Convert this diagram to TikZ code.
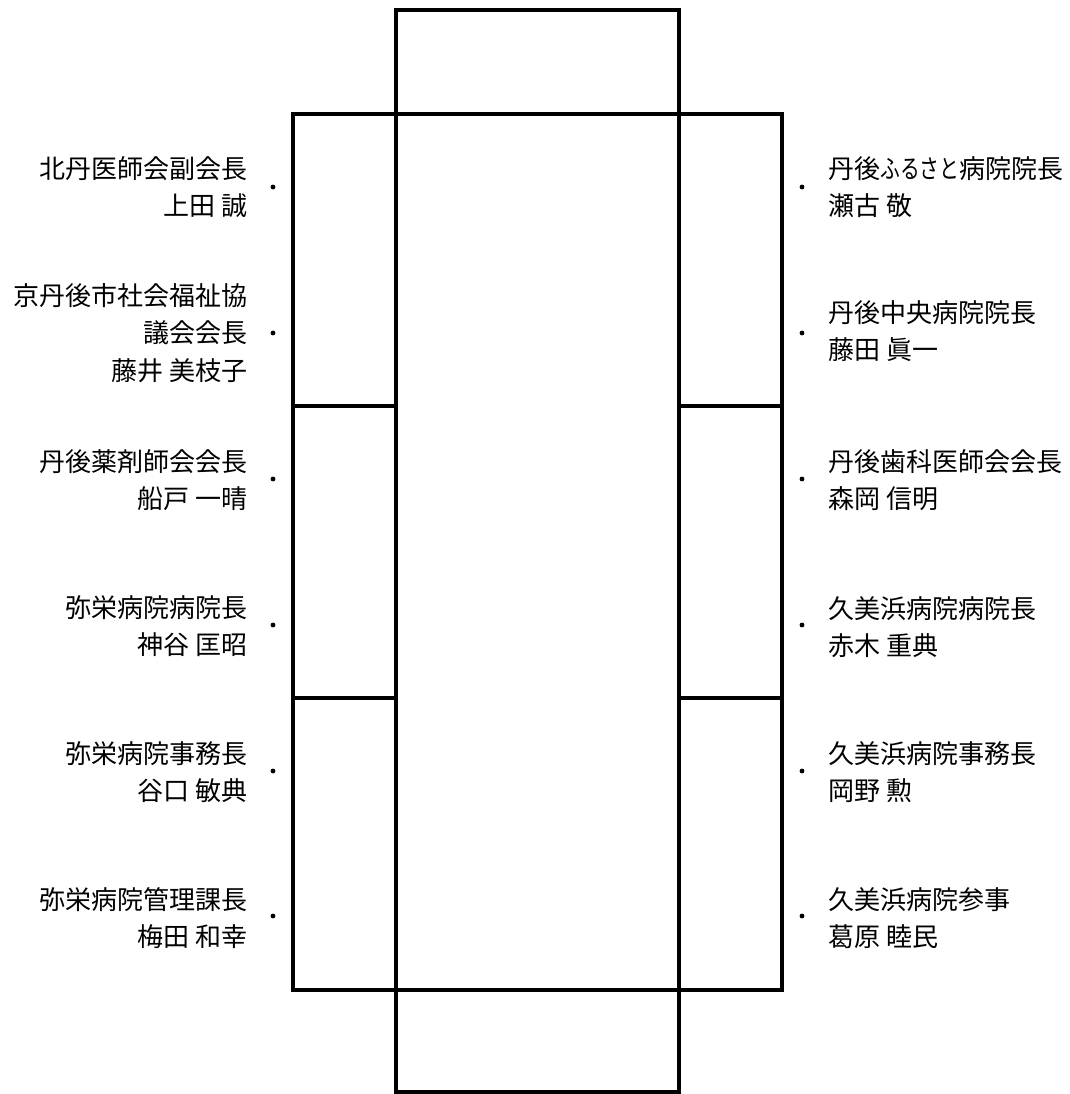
\documentclass[tikz,border=0pt]{standalone}
\usepackage{fontspec}
\setmainfont{Noto Sans CJK JP}
\usepackage{graphicx}
\usepackage{tikz}
\tikzstyle{frame} = [draw,line width=1.7pt]
\newcommand{\kananarrow}[1]{\scalebox{0.76}[1]{#1}}

\begin{document}
\begin{tikzpicture}
		[x=0.5pt,y=-0.5pt,
		lname/.style={
		anchor=east,
		align=right,
		inner sep=0pt,
		font=\fontsize{13}{18.8}\selectfont},
		rname/.style={
		anchor=west,
		align=left,
		inner sep=0pt,
		font=\fontsize{13}{18.8}\selectfont},
		seat/.style={
		circle,
		fill=black,
		inner sep=0pt,
		minimum size=2.4pt}
		]
		\useasboundingbox (0,0) rectangle (1070,1094);
		% table
		\coordinate (tl) at (293,114);
		\coordinate (tr) at (782,990);
		\draw[frame] (396,10) rectangle (679,1092);
		\draw[frame] (tl) rectangle (tr);
		\draw[frame] (293,406) -- (396,406);
		\draw[frame] (293,698) -- (396,698);
		\draw[frame] (679,406) -- (782,406);
		\draw[frame] (679,698) -- (782,698);
		% left side
		\node[lname](l1) at (248,187) {北丹医師会副会長\\上田 誠};
		\node[lname](l2) at (248,333) {京丹後市社会福祉協\\議会会長\\藤井 美枝子};
		\node[lname](l3) at (248,480) {丹後薬剤師会会長\\船戸 一晴};
		\node[lname](l4) at (248,626) {弥栄病院病院長\\神谷 匡昭};
		\node[lname](l5) at (248,772) {弥栄病院事務長\\谷口 敏典};
		\node[lname](l6) at (248,918) {弥栄病院管理課長\\梅田 和幸};
		\node[seat](sl1) at (273,187) {};
		\node[seat](sl2) at (273,333) {};
		\node[seat](sl3) at (273,479) {};
		\node[seat](sl4) at (273,625) {};
		\node[seat](sl5) at (273,771) {};
		\node[seat](sl6) at (273,916) {};
		% right side
		\node[rname](r1) at (828,187) {丹後\kananarrow{ふるさと}病院院長\\瀬古 敬};
		\node[rname](r2) at (828,331) {丹後中央病院院長\\藤田 眞一};
		\node[rname](r3) at (828,480) {丹後歯科医師会会長\\森岡 信明};
		\node[rname](r4) at (828,627) {久美浜病院病院長\\赤木 重典};
		\node[rname](r5) at (828,772) {久美浜病院事務長\\岡野 勲};
		\node[rname](r6) at (828,918) {久美浜病院参事\\葛原 睦民};
		\node[seat](sr1) at (802,187) {};
		\node[seat](sr2) at (802,333) {};
		\node[seat](sr3) at (802,479) {};
		\node[seat](sr4) at (802,625) {};
		\node[seat](sr5) at (802,771) {};
		\node[seat](sr6) at (802,916) {};
		\end{tikzpicture}
\end{document}
